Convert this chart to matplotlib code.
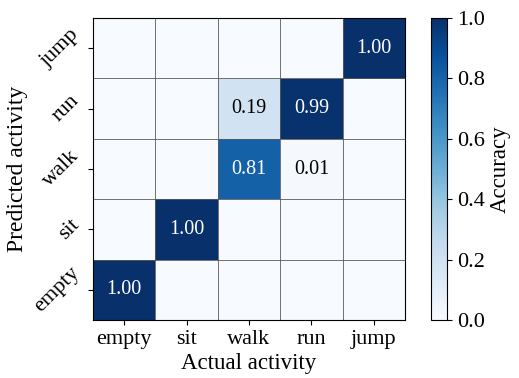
import numpy as np
from matplotlib import pyplot as plt

plt.rcParams['font.family'] = ['Liberation Serif', 'DejaVu Serif']

actual = ['empty', 'sit', 'walk', 'run', 'jump']
predicted = ['empty', 'sit', 'walk', 'run', 'jump']

# rows = predicted (empty..jump), cols = actual (empty..jump)
accuracy = np.array([
    [1.00, 0.00, 0.00, 0.00, 0.00],
    [0.00, 1.00, 0.00, 0.00, 0.00],
    [0.00, 0.00, 0.81, 0.01, 0.00],
    [0.00, 0.00, 0.19, 0.99, 0.00],
    [0.00, 0.00, 0.00, 0.00, 1.00],
])

fig = plt.figure(figsize=(5.19, 3.78), dpi=100)
ax = fig.add_axes([93 / 519, 58 / 378, 312 / 519, 302 / 378])
cax = fig.add_axes([431 / 519, 58 / 378, 16 / 519, 302 / 378])

im = ax.imshow(accuracy, cmap='Blues', vmin=0, vmax=1, origin='lower', aspect='auto')

for i in range(accuracy.shape[0]):
    for j in range(accuracy.shape[1]):
        v = accuracy[i, j]
        if v > 0:
            ax.text(j, i, f'{v:.2f}', ha='center', va='center', fontsize=14.5,
                    color='white' if v > 0.5 else 'black')

n = len(actual)
for k in range(1, n):
    ax.axhline(k - 0.5, color='0.35', linewidth=0.6)
    ax.axvline(k - 0.5, color='0.35', linewidth=0.6)

ax.set_xticks(range(n))
ax.set_xticklabels(actual, fontsize=16)
ax.set_yticks(range(n))
ax.set_yticklabels(predicted, fontsize=16, rotation=45, va='center')
ax.set_xlabel('Actual activity', fontsize=16.5, labelpad=3)
ax.set_ylabel('Predicted activity', fontsize=17, labelpad=2)

cb = fig.colorbar(im, cax=cax)
cb.set_ticks([0, 0.2, 0.4, 0.6, 0.8, 1.0])
cb.ax.tick_params(labelsize=16)
cb.set_label('Accuracy', fontsize=16.5, labelpad=4)

fig.savefig('out.png', dpi=100)
